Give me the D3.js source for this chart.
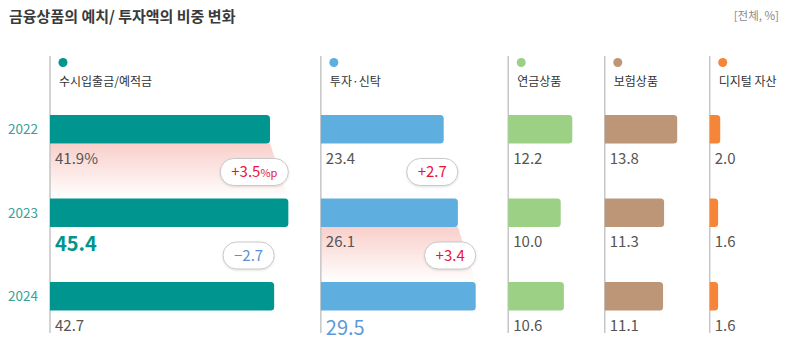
<!DOCTYPE html>
<html>
<head>
<meta charset="utf-8">
<script src="https://cdn.jsdelivr.net/npm/d3@7"></script>
<style>
  body { margin: 0; background: #fff; }
  svg { display: block; font-family: 'Noto Sans CJK KR', 'Noto Sans', sans-serif; }
  .badge rect { filter: drop-shadow(0 1px 1px rgba(0,0,0,0.12)); }
</style>
</head>
<body>
<script>
// chart data
var years = ['2022', '2023', '2024'];
var categories = ['수시입출금/예적금', '투자·신탁', '연금상품', '보험상품', '디지털 자산'];
var depositShare = [41.9, 45.4, 42.7];
var investShare = [23.4, 26.1, 29.5];
var pensionShare = [12.2, 10.0, 10.6];
var insuranceShare = [13.8, 11.3, 11.1];
var digitalShare = [2.0, 1.6, 1.6];
var shares = [depositShare, investShare, pensionShare, insuranceShare, digitalShare];
// which year gets the big label in each panel (-1 = none)
var highlightYear = [1, 2, -1, -1, -1];
// change badges: [panel, from year index]
var changeBadges = [[0, 0], [0, 1], [1, 0], [1, 1]];
// shaded band between years: [panel, from year index]
var changeBands = [[0, 0], [1, 1]];

var colors = ['#00958e', '#5eaee0', '#9bd085', '#bd9677', '#f48539'];
var bigColors = ['#00958e', '#5b9ad8'];

var width = 800, height = 352;

var svg = d3.select('body').append('svg')
  .attr('width', width)
  .attr('height', height);

// gradient for bands
var grad = svg.append('defs').append('linearGradient')
  .attr('id', 'band').attr('x1', 0).attr('y1', 0).attr('x2', 0).attr('y2', 1);
grad.append('stop').attr('offset', '0%').attr('stop-color', '#f9cfca');
grad.append('stop').attr('offset', '100%').attr('stop-color', '#ffffff');

// scales
var x = d3.scaleLinear().domain([0, 100]).range([0, 525]);
var y = d3.scalePoint().domain(years).range([115, 282]);
var barH = 28.5;

// panel starts from the largest bar in the previous panel
var panelX = [];
var start = 50;
shares.forEach(function(s) {
  panelX.push(start);
  start += x(d3.max(s)) + 32.5;
});

// title
svg.append('text')
  .attr('x', 9).attr('y', 22)
  .attr('font-size', 15).attr('font-weight', 700)
  .attr('fill', '#3a3a3a')
  .text('금융상품의 예치/ 투자액의 비중 변화');

svg.append('text')
  .attr('x', 779).attr('y', 20)
  .attr('text-anchor', 'end')
  .attr('font-size', 11.5).attr('fill', '#8a8a8a')
  .text('[전체, %]');

// year labels
svg.selectAll('.year')
  .data(years).enter()
  .append('text')
  .attr('class', 'year')
  .attr('x', 38)
  .attr('y', function(d) { return y(d) + barH / 2 + 5; })
  .attr('text-anchor', 'end')
  .attr('font-size', 13.5)
  .attr('fill', '#3aa199')
  .text(function(d) { return d; });

function barPath(x0, y0, w, h, r) {
  r = Math.min(r, w / 2);
  return 'M' + x0 + ',' + y0 +
    'H' + (x0 + w - r) +
    'Q' + (x0 + w) + ',' + y0 + ' ' + (x0 + w) + ',' + (y0 + r) +
    'V' + (y0 + h - r) +
    'Q' + (x0 + w) + ',' + (y0 + h) + ' ' + (x0 + w - r) + ',' + (y0 + h) +
    'H' + x0 + 'Z';
}

// bands
changeBands.forEach(function(b) {
  var p = b[0], i = b[1], x0 = panelX[p];
  var yTop = y(years[i]) + barH, yBot = y(years[i + 1]);
  svg.append('path')
    .attr('d', 'M' + x0 + ',' + yTop +
      'L' + (x0 + x(shares[p][i])) + ',' + yTop +
      'L' + (x0 + x(shares[p][i + 1])) + ',' + yBot +
      'L' + x0 + ',' + yBot + 'Z')
    .attr('fill', 'url(#band)');
});

// panels
shares.forEach(function(vals, p) {
  var g = svg.append('g').attr('transform', 'translate(' + panelX[p] + ',0)');

  g.append('line')
    .attr('x1', 0).attr('x2', 0)
    .attr('y1', 56).attr('y2', 333)
    .attr('stroke', '#c6c6c6').attr('stroke-width', 1.5);

  g.append('circle')
    .attr('cx', 13).attr('cy', 62.5).attr('r', 4.5)
    .attr('fill', colors[p]);

  g.append('text')
    .attr('x', 9).attr('y', 86)
    .attr('font-size', 12).attr('fill', '#333')
    .text(categories[p]);

  g.selectAll('.bar')
    .data(vals).enter()
    .append('path')
    .attr('d', function(d, i) { return barPath(0, y(years[i]), x(d), barH, 3.5); })
    .attr('fill', colors[p]);

  g.selectAll('.val')
    .data(vals).enter()
    .append('text')
    .attr('x', 5)
    .attr('y', function(d, i) {
      return y(years[i]) + barH + (i === highlightYear[p] ? 24 : 20);
    })
    .attr('font-size', function(d, i) { return i === highlightYear[p] ? 20 : 15; })
    .attr('font-weight', function(d, i) { return i === highlightYear[p] && p === 0 ? 700 : 400; })
    .attr('fill', function(d, i) { return i === highlightYear[p] ? bigColors[p] : '#555'; })
    .text(function(d, i) {
      return d3.format('.1f')(d) + (p === 0 && i === 0 ? '%' : '');
    });
});

// change badges
var fmt = d3.format('+.1f');
changeBadges.forEach(function(c, k) {
  var p = c[0], i = c[1];
  var diff = shares[p][i + 1] - shares[p][i];
  var right = panelX[p] + x(shares[p][i + 1]);
  var cy = (y(years[i]) + barH + y(years[i + 1])) / 2 + 1;
  var g = svg.append('g').attr('class', 'badge');
  var rect = g.append('rect');
  var t = g.append('text')
    .attr('y', cy + 5)
    .attr('text-anchor', 'middle')
    .attr('font-size', 15)
    .attr('fill', diff >= 0 ? '#e8163c' : '#5b8fd6');
  t.append('tspan').text(fmt(diff));
  if (k === 0) {
    t.append('tspan').attr('font-size', 11).text('%p');
  }
  var tw = t.node().getComputedTextLength();
  var w = tw + 22, h = 27;
  var cx = right - w / 2;
  t.attr('x', cx);
  rect.attr('x', cx - w / 2).attr('y', cy - h / 2)
    .attr('width', w).attr('height', h)
    .attr('rx', h / 2)
    .attr('fill', '#fff')
    .attr('stroke', '#c9c9c9');
});
</script>
</body>
</html>
